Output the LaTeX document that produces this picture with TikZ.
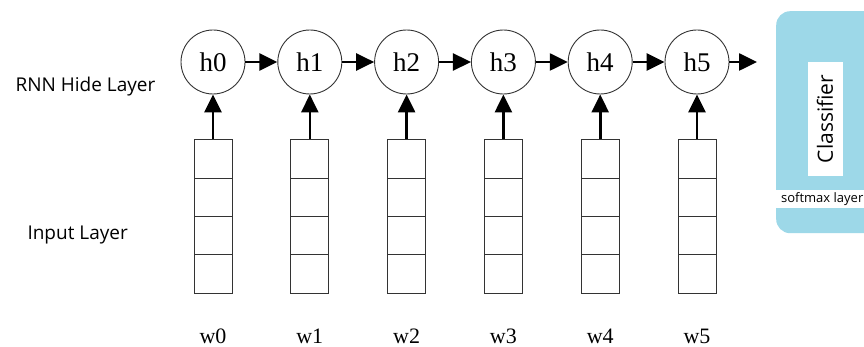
\documentclass[tikz,border=0pt]{standalone}
\usepackage{fontspec}
\setmainfont{Liberation Serif}
\setsansfont{Open Sans}
\usetikzlibrary{arrows.meta}
\definecolor{clsblue}{HTML}{9DD8E8}
\begin{document}
\begin{tikzpicture}[x=1pt,y=-1pt,
  hnode/.style={circle,draw=black!80,line width=0.9pt,minimum size=64pt,inner sep=0pt,font=\fontsize{27}{30}\selectfont},
  cell/.style={rectangle,draw=black!80,line width=0.9pt,minimum width=38pt,minimum height=38.3pt,inner sep=0pt},
  wlab/.style={font=\fontsize{22}{26}\selectfont},
  lay/.style={font=\sffamily\fontsize{19}{22}\selectfont,anchor=west},
  conn/.style={line width=2.6pt,-{Triangle[length=18pt,width=17pt]}}
]
\useasboundingbox (0,0) rectangle (864,347);
\clip (0,0) rectangle (864,347);
\fill[white] (0,0) rectangle (864,347);
% classifier
\node[draw=none,fill=clsblue,rounded corners=14pt,minimum width=110pt,minimum height=222pt,anchor=north west] (cls) at (776,11) {};
\node[fill=white,minimum width=114pt,minimum height=35pt,inner sep=0pt,rotate=90,font=\sffamily\fontsize{21}{24}\selectfont] (clst) at (825,119) {Classifier};
\node[fill=white,minimum width=90pt,minimum height=18pt,inner sep=0pt,anchor=west,font=\sffamily\fontsize{13}{15}\selectfont] (soft) at (776,199) {\hspace*{2pt}softmax layer\hfill};
% layer labels
\node[lay] (lh) at (12,87) {RNN Hide Layer};
\node[lay] (li) at (24,235) {Input Layer};
\foreach \i in {0,...,5}{
  \pgfmathsetmacro{\cx}{213+96.8*\i}
  \node[hnode] (h\i) at (\cx,62) {h\i};
  \node[cell] (c\i a) at (\cx,159) {};
  \node[cell] (c\i b) at (\cx,197.3) {};
  \node[cell] (c\i c) at (\cx,235.6) {};
  \node[cell] (c\i d) at (\cx,273.9) {};
  \node[wlab] (w\i) at (\cx,336) {w\i};
  \draw[conn] (c\i a.north) -- (h\i.south);
}
\foreach \i/\j in {0/1,1/2,2/3,3/4,4/5}{
  \draw[conn] (h\i.east) -- (h\j.west);
}
\coordinate (out) at (757,62);
\draw[conn] (h5.east) -- (out);
\end{tikzpicture}
\end{document}
